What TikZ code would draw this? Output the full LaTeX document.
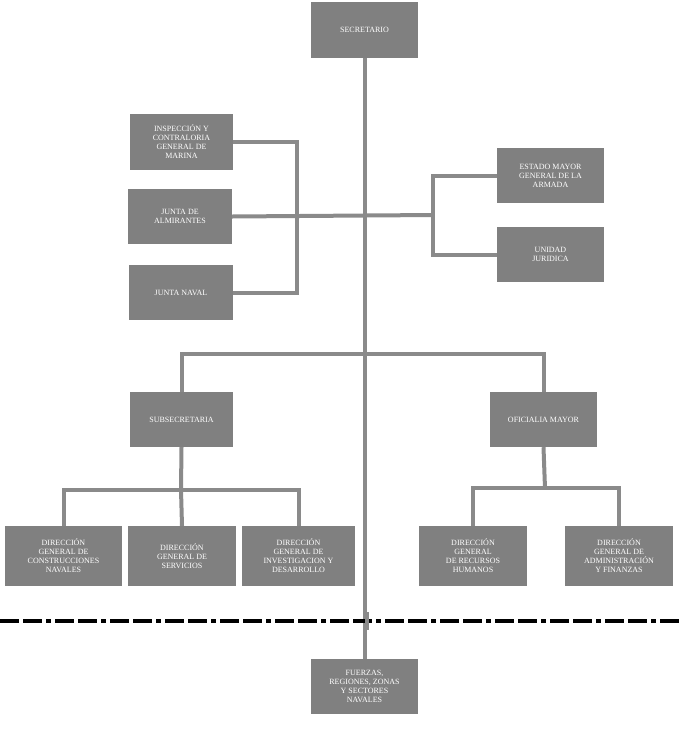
\documentclass[tikz,border=0pt]{standalone}
\usepackage{fontspec}
\setmainfont{Liberation Serif}
\begin{document}
\begin{tikzpicture}[x=1pt,y=-1pt,
  box/.style={fill=boxgray,text=white,inner sep=0pt,align=center,font=\fontsize{8}{9}\selectfont},
  conn/.style={draw=linegray,line width=4pt}]
\definecolor{boxgray}{HTML}{808080}
\definecolor{linegray}{HTML}{8A8A8A}
\useasboundingbox (0,0) rectangle (680,729);
\newcommand\bx[6]{\node[box,minimum width=#4-#2,minimum height=#5-#3] (#1) at ({(#2+#4)/2},{(#3+#5)/2}) {#6};}
\bx{sec}{311}{2}{418}{58}{SECRETARIO}
\bx{insp}{130}{114}{233}{170}{INSPECCIÓN Y\\CONTRALORIA\\GENERAL DE\\MARINA}
\bx{jalm}{128}{189}{232}{244}{JUNTA DE\\ALMIRANTES}
\bx{jnav}{129}{265}{233}{320}{JUNTA NAVAL}
\bx{emg}{497}{148}{604}{203}{ESTADO MAYOR\\GENERAL DE LA\\ARMADA}
\bx{uj}{497}{227}{604}{282}{UNIDAD\\JURIDICA}
\bx{sub}{130}{392}{233}{447}{SUBSECRETARIA}
\bx{ofi}{490}{392}{597}{447}{OFICIALIA MAYOR}
\bx{d1}{5}{526}{122}{586}{DIRECCIÓN\\GENERAL DE\\CONSTRUCCIONES\\NAVALES}
\bx{d2}{128}{526}{236}{586}{DIRECCIÓN\\GENERAL DE\\SERVICIOS}
\bx{d3}{242}{526}{355}{586}{DIRECCIÓN\\GENERAL DE\\INVESTIGACION Y\\DESARROLLO}
\bx{d4}{419}{526}{527}{586}{DIRECCIÓN\\GENERAL\\DE RECURSOS\\HUMANOS}
\bx{d5}{565}{526}{673}{586}{DIRECCIÓN\\GENERAL DE\\ADMINISTRACIÓN\\Y FINANZAS}
\bx{fue}{311}{659}{418}{714}{FUERZAS,\\REGIONES, ZONAS\\Y SECTORES\\NAVALES}
\coordinate (lb) at (297,215);
\coordinate (rb) at (433,215);
\coordinate (hm) at (367,354);
\coordinate (sj) at (181,490);
\coordinate (oj) at (545,488);
\draw[conn] (sec.south) -- (fue.north);
\draw[conn] (insp.east |- 0,142) -| (lb) |- (jnav.east);
\draw[conn] (jalm.east) -- (rb);
\draw[conn] (emg.west) -| (rb) |- (uj.west);
\draw[conn] (sub.north) |- (hm) -| (ofi.north);
\draw[conn] (sub.south) -- (sj);
\draw[conn] (d1.north) |- (sj) -| (d3.north);
\draw[conn] (d2.north) -- (sj);
\draw[conn] (ofi.south) -- (oj);
\draw[conn] (d4.north) |- (oj) -| (d5.north);
\draw[black,line width=4pt,dash pattern=on 19pt off 4pt on 19pt off 4pt on 5pt off 4pt] (0,621) -- (680,621);
\draw[conn] (367,612) -- (367,630);
\end{tikzpicture}
\end{document}
